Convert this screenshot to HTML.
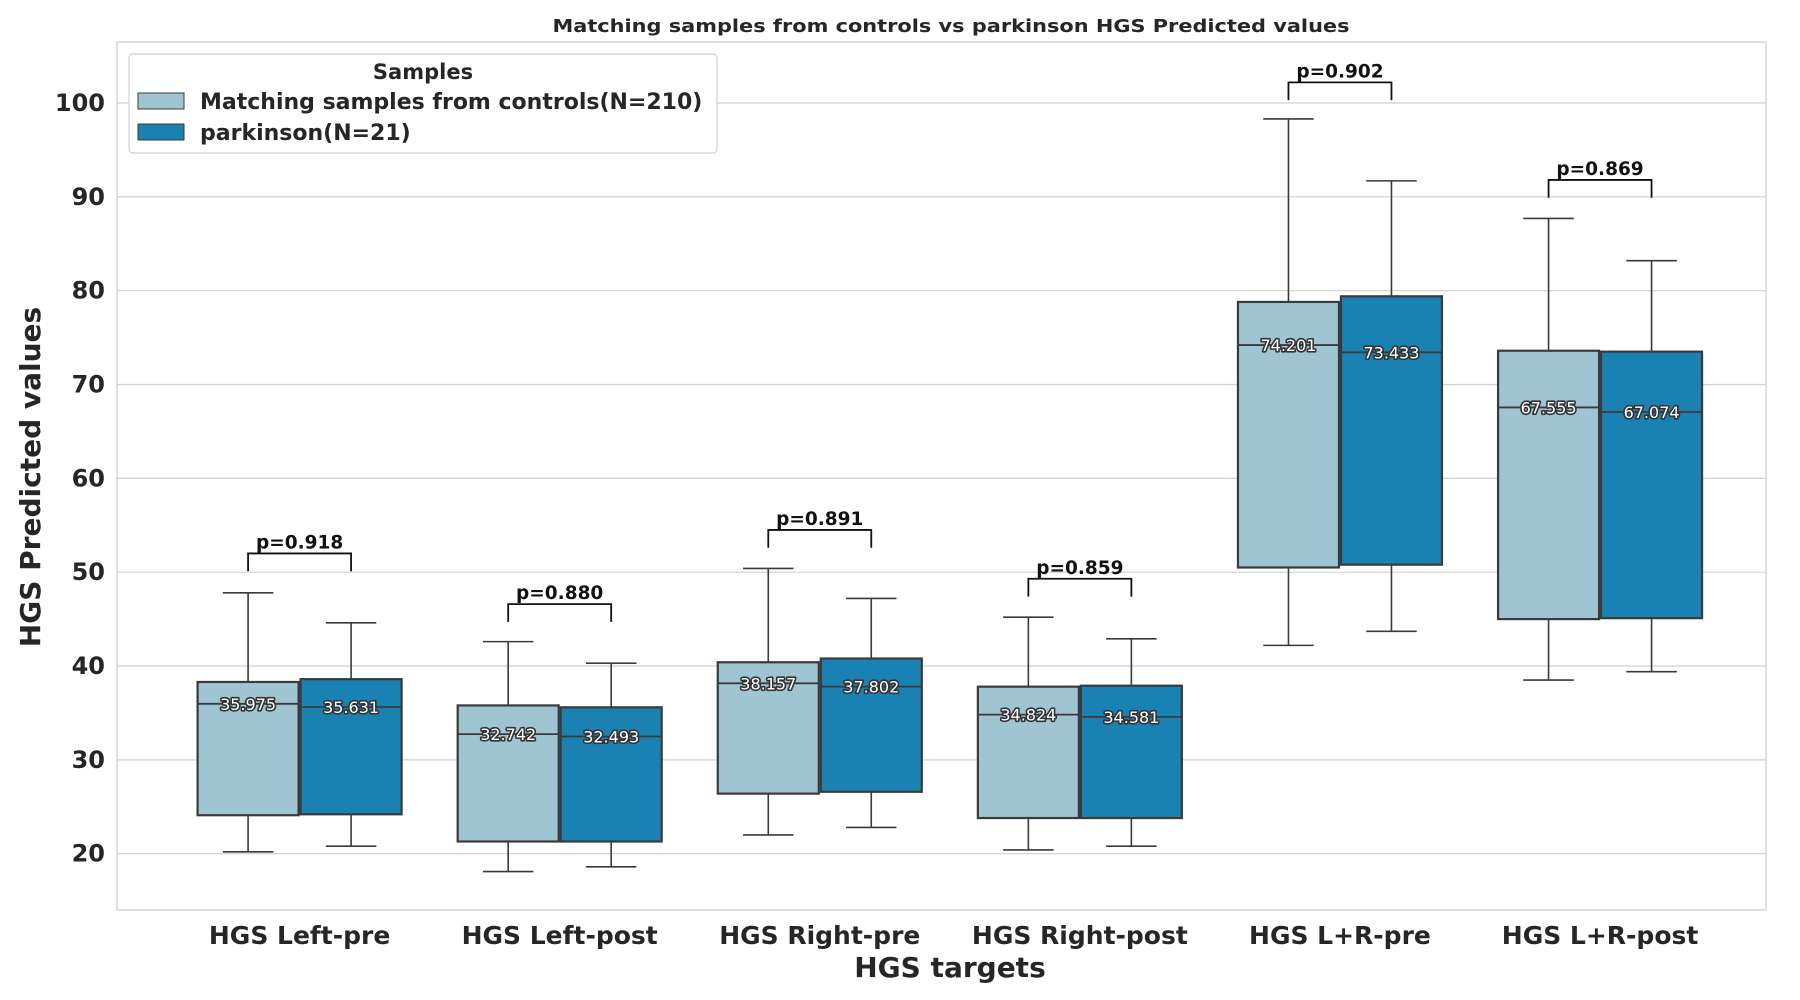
<!DOCTYPE html>
<html><head><meta charset="utf-8"><style>
html,body{margin:0;padding:0;background:#fff;width:1800px;height:1000px;overflow:hidden}
text{font-family:"DejaVu Sans","Liberation Sans",sans-serif}
</style></head><body>
<svg id="chart" width="1800" height="1000" xmlns="http://www.w3.org/2000/svg"></svg>
<script>
const categories=["HGS Left-pre","HGS Left-post","HGS Right-pre","HGS Right-post","HGS L+R-pre","HGS L+R-post"];
const ctrlLow=[20.2,18.1,22.0,20.4,42.2,38.5];
const ctrlQ1=[24.1,21.3,26.4,23.8,50.5,45.0];
const ctrlMed=[35.975,32.742,38.157,34.824,74.201,67.555];
const ctrlQ3=[38.3,35.8,40.4,37.8,78.8,73.6];
const ctrlHigh=[47.8,42.6,50.4,45.2,98.3,87.7];
const parkLow=[20.8,18.6,22.8,20.8,43.7,39.4];
const parkQ1=[24.2,21.3,26.6,23.8,50.8,45.1];
const parkMed=[35.631,32.493,37.802,34.581,73.433,67.074];
const parkQ3=[38.6,35.6,40.8,37.9,79.4,73.5];
const parkHigh=[44.6,40.3,47.2,42.9,91.7,83.2];
const pValues=["p=0.918","p=0.880","p=0.891","p=0.859","p=0.902","p=0.869"];
const bracketTop=[52.0,46.6,54.5,49.3,102.2,91.8];
const yTicks=[20,30,40,50,60,70,80,90,100];

const L=117,R=1766,T=42,B=910,yMin=14,yMax=106.5;
const y=v=>B-(v-yMin)/(yMax-yMin)*(B-T);
const x0=-0.702,x1=5.638;
const xc=i=>L+(i-x0)/(x1-x0)*(R-L);
const svg=document.getElementById('chart');
const NS='http://www.w3.org/2000/svg';
function mk(tag,attrs,parent){const e=document.createElementNS(NS,tag);for(const k in attrs)e.setAttribute(k,attrs[k]);(parent||svg).appendChild(e);return e;}

mk('rect',{x:L,y:T,width:R-L,height:B-T,fill:'#fff',stroke:'#cccccc','stroke-width':1.2});
yTicks.forEach(t=>{
  const g=mk('line',{x1:L,x2:R,y1:y(t),y2:y(t),stroke:'#d0d0d0','stroke-width':1.2});
  
  
  const tx=mk('text',{x:L-12,y:y(t)+8,'text-anchor':'end','font-size':24,'font-weight':'bold',fill:'#262626'});
  tx.textContent=t;
  
  
});
const bw=101;
function box(cx,lo,q1,med,q3,hi,fill,name){
  const g=mk('g',{});
  
  
  mk('line',{x1:cx,x2:cx,y1:y(hi),y2:y(q3),stroke:'#3a3a3a','stroke-width':1.6},g);
  mk('line',{x1:cx,x2:cx,y1:y(q1),y2:y(lo),stroke:'#3a3a3a','stroke-width':1.6},g);
  mk('line',{x1:cx-bw/4,x2:cx+bw/4,y1:y(hi),y2:y(hi),stroke:'#3a3a3a','stroke-width':1.6},g);
  mk('line',{x1:cx-bw/4,x2:cx+bw/4,y1:y(lo),y2:y(lo),stroke:'#3a3a3a','stroke-width':1.6},g);
  mk('rect',{x:cx-bw/2,y:y(q3),width:bw,height:y(q1)-y(q3),fill:fill,stroke:'#3a3a3a','stroke-width':2.2},g);
  mk('line',{x1:cx-bw/2,x2:cx+bw/2,y1:y(med),y2:y(med),stroke:'#3a3a3a','stroke-width':1.8},g);
  const t=mk('text',{x:cx,y:y(med)+6,'text-anchor':'middle','font-size':16,fill:'#fff',stroke:'#333','stroke-width':3.2,'paint-order':'stroke','stroke-linejoin':'round'},g);
  t.textContent=med.toFixed(3);
}
categories.forEach((c,i)=>{
  const cx=xc(i);
  const lx=cx-bw/2-1,rx=cx+bw/2+1;
  box(lx,ctrlLow[i],ctrlQ1[i],ctrlMed[i],ctrlQ3[i],ctrlHigh[i],'#9fc5d3','box-controls-'+i);
  box(rx,parkLow[i],parkQ1[i],parkMed[i],parkQ3[i],parkHigh[i],'#1a82b3','box-parkinson-'+i);
  const bt=y(bracketTop[i]),bl=y(bracketTop[i]-1.9);
  const p=mk('polyline',{points:`${lx},${bl} ${lx},${bt} ${rx},${bt} ${rx},${bl}`,fill:'none',stroke:'#111','stroke-width':1.8});
  
  
  const pt=mk('text',{x:cx,y:bt-5,'text-anchor':'middle','font-size':18.5,'font-weight':'bold',fill:'#111'});
  pt.textContent=pValues[i];
  
  
  const xl=mk('text',{x:cx,y:944,'text-anchor':'middle','font-size':25,'font-weight':'bold',fill:'#262626'});
  xl.textContent=c;
  
  
});
</script>
<svg style="position:absolute;left:0;top:0" width="1800" height="1000">
<text x="951" y="32" text-anchor="middle" font-size="18" font-weight="bold" fill="#262626" textLength="797" lengthAdjust="spacingAndGlyphs">Matching samples from controls vs parkinson HGS Predicted values</text>
<text x="950" y="977" text-anchor="middle" font-size="28" font-weight="bold" fill="#262626">HGS targets</text>
<text transform="translate(40,477) rotate(-90)" text-anchor="middle" font-size="28" font-weight="bold" fill="#262626">HGS Predicted values</text>
<g>
<rect x="129" y="54" width="588" height="99" rx="4" fill="#fff" stroke="#d0d0d0" stroke-width="1.2"/>
<text x="423" y="79" text-anchor="middle" font-size="21" font-weight="bold" fill="#262626">Samples</text>
<rect x="138" y="93" width="46" height="16" fill="#9fc5d3" stroke="#3a3a3a" stroke-width="1"/>
<text x="200" y="109" font-size="22" font-weight="bold" fill="#262626">Matching samples from controls(N=210)</text>
<rect x="138" y="124" width="46" height="16" fill="#1a82b3" stroke="#3a3a3a" stroke-width="1"/>
<text x="200" y="140" font-size="22" font-weight="bold" fill="#262626">parkinson(N=21)</text>
</g>
</svg>
</body></html>
